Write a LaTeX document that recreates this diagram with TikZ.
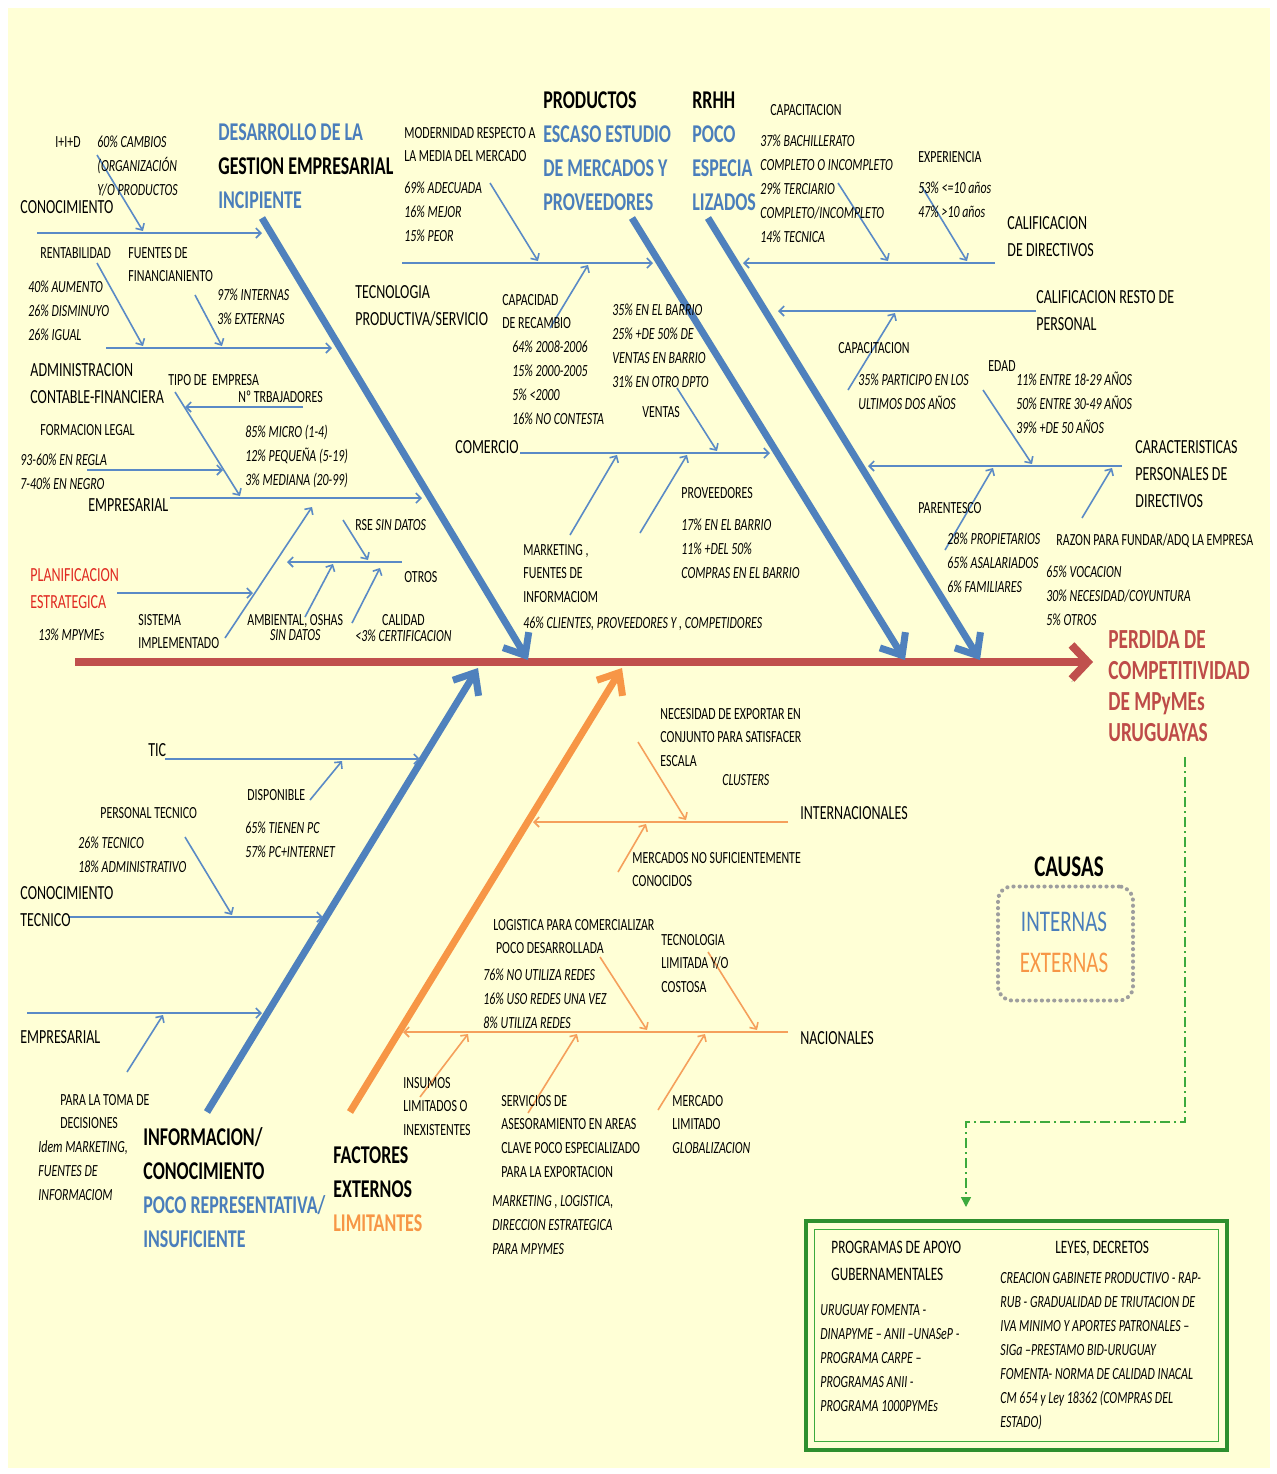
\documentclass[tikz,border=0pt]{standalone}
\usepackage{fontspec}
\setmainfont{Carlito}[FakeStretch=0.7]
\usetikzlibrary{arrows.meta}
\definecolor{bgy}{HTML}{FFFFD6}
\definecolor{bone}{HTML}{4F81BD}
\definecolor{thinb}{HTML}{5A8AC6}
\definecolor{orb}{HTML}{F79646}
\definecolor{thino}{HTML}{F5A05C}
\definecolor{spinec}{HTML}{C0504D}
\definecolor{hblue}{HTML}{4A7EBB}
\definecolor{pred}{HTML}{E02A22}
\definecolor{effred}{HTML}{BE4B48}
\definecolor{grn}{HTML}{2E8F2E}
\definecolor{grnl}{HTML}{3DAA3D}
% stacked lines whose baseline is the first line's baseline
\newcommand\mlines[1]{\begin{tabular}[t]{@{}l@{}}#1\end{tabular}}
\newcommand\mlinesc[1]{\begin{tabular}[t]{@{}c@{}}#1\end{tabular}}
\begin{document}
\begin{tikzpicture}[x=0.5pt,y=-0.5pt,
  txt/.style={inner sep=0pt,anchor=base west},
  tsm/.style={txt,font=\fontsize{8.5}{11.9}\selectfont},
  tit/.style={txt,font=\fontsize{8.5}{12}\selectfont\itshape},
  tlab/.style={txt,font=\fontsize{10}{13.5}\selectfont},
  thd/.style={txt,font=\fontsize{12.8}{17}\selectfont\bfseries},
  teff/.style={txt,font=\fontsize{13.8}{15.5}\selectfont\bfseries,text=effred},
  bonein/.style={line width=3.5pt,draw=bone,-{Straight Barb[length=9pt,width=15pt]}},
  boneor/.style={line width=3.5pt,draw=orb,-{Straight Barb[length=9pt,width=15pt]}},
  twig/.style={line width=0.8pt,draw=thinb,-{Straight Barb[length=2.5pt,width=5pt]}},
  otwig/.style={line width=0.8pt,draw=thino,-{Straight Barb[length=2.5pt,width=5pt]}},
  spine/.style={line width=4pt,draw=spinec,-{Straight Barb[length=8pt,width=17pt]}}
]
% page and background
\useasboundingbox (0,0) rectangle (1277,1474);
\fill[white] (0,0) rectangle (1277,1474);
\fill[bgy] (8,8) rectangle (1270,1468);

% ---------- main spine ----------
\coordinate (sp0) at (75,662);
\coordinate (sp1) at (1093,662);
\draw[spine,preaction={draw=black,opacity=0.18,transform canvas={yshift=-1.5pt}}] (sp0) -- (sp1);

% ---------- main bones ----------
\coordinate (b1s) at (262,218); \coordinate (b1e) at (528,660);
\coordinate (b2s) at (632,218); \coordinate (b2e) at (905,660);
\coordinate (b3s) at (708,218); \coordinate (b3e) at (980,660);
\coordinate (b4s) at (207,1112); \coordinate (b4e) at (478,668);
\coordinate (b5s) at (350,1112); \coordinate (b5e) at (622,668);
\draw[bonein] (b1s) -- (b1e);
\draw[bonein] (b2s) -- (b2e);
\draw[bonein] (b3s) -- (b3e);
\draw[bonein] (b4s) -- (b4e);
\draw[boneor] (b5s) -- (b5e);

% ---------- branch lines ----------
\coordinate (l1a) at (37,233);   \coordinate (l1b) at (262,233);
\coordinate (l2a) at (106,348);  \coordinate (l2b) at (332,348);
\coordinate (l3a) at (170,498);  \coordinate (l3b) at (422,498);
\coordinate (l4a) at (402,263);  \coordinate (l4b) at (653,263);
\coordinate (l5a) at (520,453);  \coordinate (l5b) at (770,453);
\coordinate (l6a) at (995,263);  \coordinate (l6b) at (743,263);
\coordinate (l7a) at (1036,311); \coordinate (l7b) at (778,311);
\coordinate (l8a) at (1122,466); \coordinate (l8b) at (868,466);
\coordinate (l9a) at (165,759);  \coordinate (l9b) at (420,759);
\coordinate (l10a) at (68,917);  \coordinate (l10b) at (323,917);
\coordinate (l11a) at (27,1013); \coordinate (l11b) at (262,1013);
\coordinate (l12a) at (788,822); \coordinate (l12b) at (533,822);
\coordinate (l13a) at (788,1032); \coordinate (l13b) at (403,1032);
\foreach \i in {1,...,11} {\draw[twig] (l\i a) -- (l\i b);}
\draw[otwig] (l12a) -- (l12b);
\draw[otwig] (l13a) -- (l13b);

% ---------- small cause arrows ----------
\foreach \n/\xa/\ya/\xb/\yb in {
  a1/97/155/143/231, a2/97/263/143/346, a3/195/295/222/346,
  a4/175/392/240/496, a5/303/407/185/407, a6/87/470/223/470,
  a7/117/593/253/593, a8/225/638/312/507, a9/402/562/287/562,
  a10/343/520/368/560, a11/305/617/333/564, a12/352/623/380/568,
  a13/490/183/538/261, a14/550/328/588/265, a15/677/388/717/451,
  a16/570/535/617/455, a17/640/533/687/455,
  a18/838/183/888/261, a19/922/187/967/261, a20/848/390/895/313,
  a21/983/390/1032/464, a22/945/550/993/468, a23/1082/518/1112/468,
  a24/310/800/342/761, a25/185/837/232/915, a26/127/1072/163/1015}
  {\coordinate (\n s) at (\xa,\ya); \coordinate (\n e) at (\xb,\yb);
   \draw[twig] (\n s) -- (\n e);}
\foreach \n/\xa/\ya/\xb/\yb in {
  a27/638/742/686/820, a28/618/872/646/824, a29/600/957/647/1030,
  a30/708/952/757/1030, a31/420/1097/468/1034, a32/528/1113/577/1034,
  a33/658/1110/705/1034}
  {\coordinate (\n s) at (\xa,\ya); \coordinate (\n e) at (\xb,\yb);
   \draw[otwig] (\n s) -- (\n e);}

% ---------- headers of the bones ----------
\node[thd] (h1) at (218,140) {\mlines{\textcolor{hblue}{DESARROLLO DE LA}\\GESTION EMPRESARIAL\\\textcolor{hblue}{INCIPIENTE}}};
\node[thd] (h2) at (543,108) {\mlines{PRODUCTOS\\\textcolor{hblue}{ESCASO ESTUDIO}\\\textcolor{hblue}{DE MERCADOS Y}\\\textcolor{hblue}{PROVEEDORES}}};
\node[thd] (h3) at (692,108) {\mlines{RRHH\\\textcolor{hblue}{POCO}\\\textcolor{hblue}{ESPECIA}\\\textcolor{hblue}{LIZADOS}}};
\node[thd] (h4) at (143,1145) {\mlines{INFORMACION/\\CONOCIMIENTO\\\textcolor{hblue}{POCO REPRESENTATIVA/}\\\textcolor{hblue}{INSUFICIENTE}}};
\node[thd] (h5) at (333,1163) {\mlines{FACTORES\\EXTERNOS\\\textcolor{orb}{LIMITANTES}}};
\node[teff] (eff) at (1108,648) {\mlines{PERDIDA DE\\COMPETITIVIDAD\\DE MPyMEs\\URUGUAYAS}};

% ---------- gestion empresarial ----------
\node[tsm] (t1) at (55,147) {I+I+D};
\node[tit] (t2) at (97,147) {\mlines{60\% CAMBIOS\\(ORGANIZACIÓN\\Y/O PRODUCTOS}};
\node[tlab] (t3) at (20,213) {CONOCIMIENTO};
\node[tsm] (t4) at (40,258) {RENTABILIDAD};
\node[tsm] (t5) at (128,258) {\mlines{FUENTES DE\\FINANCIANIENTO}};
\node[tit] (t6) at (28,292) {\mlines{40\% AUMENTO\\26\% DISMINUYO\\26\% IGUAL}};
\node[tit] (t7) at (217,300) {\mlines{97\% INTERNAS\\3\% EXTERNAS}};
\node[tlab] (t8) at (30,376) {\mlines{ADMINISTRACION\\CONTABLE-FINANCIERA}};
\node[tsm] (t9) at (168,385) {TIPO DE\ \ EMPRESA};
\node[tsm] (t10) at (238,402) {Nº TRBAJADORES};
\node[tsm] (t11) at (40,435) {FORMACION LEGAL};
\node[tit] (t12) at (20,465) {\mlines{93-60\% EN REGLA\\7-40\% EN NEGRO}};
\node[tit] (t13) at (245,437) {\mlines{85\% MICRO (1-4)\\12\% PEQUEÑA (5-19)\\3\% MEDIANA (20-99)}};
\node[tlab] (t14) at (88,511) {EMPRESARIAL};
\node[tsm] (t15) at (355,530) {RSE \textit{SIN DATOS}};
\node[tsm] (t16) at (404,582) {OTROS};
\node[tlab,text=pred] (t17) at (30,581) {\mlines{PLANIFICACION\\ESTRATEGICA}};
\node[tsm] (t18) at (138,625) {\mlines{SISTEMA\\IMPLEMENTADO}};
\node[tit] (t19) at (38,640) {13\% MPYMEs};
\node[tsm,font=\fontsize{8.5}{7.5}\selectfont] (t20) at (247,625) {\mlinesc{AMBIENTAL, OSHAS\\\textit{SIN DATOS}}};
\node[tsm,font=\fontsize{8.5}{7.5}\selectfont] (t21) at (355,625) {\mlinesc{CALIDAD\\\textit{<3\% CERTIFICACION}}};

% ---------- productos ----------
\node[tsm] (t22) at (404,138) {\mlines{MODERNIDAD RESPECTO A\\LA MEDIA DEL MERCADO}};
\node[tit] (t23) at (404,193) {\mlines{69\% ADECUADA\\16\% MEJOR\\15\% PEOR}};
\node[tlab] (t24) at (355,298) {\mlines{TECNOLOGIA\\PRODUCTIVA/SERVICIO}};
\node[tsm] (t25) at (502,305) {\mlines{CAPACIDAD\\DE RECAMBIO}};
\node[tit] (t26) at (512,352) {\mlines{64\% 2008-2006\\15\% 2000-2005\\5\% <2000\\16\% NO CONTESTA}};
\node[tit] (t27) at (612,315) {\mlines{35\% EN EL BARRIO\\25\% +DE 50\% DE\\VENTAS EN BARRIO\\31\% EN OTRO DPTO}};
\node[tsm] (t28) at (642,417) {VENTAS};
\node[tlab] (t29) at (455,453) {COMERCIO};
\node[tsm] (t30) at (523,555) {\mlines{MARKETING ,\\FUENTES DE\\INFORMACIOM}};
\node[tit] (t31) at (523,628) {46\% CLIENTES, PROVEEDORES Y , COMPETIDORES};
\node[tsm] (t32) at (681,498) {PROVEEDORES};
\node[tit] (t33) at (681,530) {\mlines{17\% EN EL BARRIO\\11\% +DEL 50\%\\COMPRAS EN EL BARRIO}};

% ---------- rrhh ----------
\node[tsm] (t34) at (770,115) {CAPACITACION};
\node[tit] (t35) at (760,146) {\mlines{37\% BACHILLERATO\\COMPLETO O INCOMPLETO\\29\% TERCIARIO\\COMPLETO/INCOMPLETO\\14\% TECNICA}};
\node[tsm] (t36) at (918,162) {EXPERIENCIA};
\node[tit] (t37) at (918,193) {\mlines{53\% <=10 años\\47\% >10 años}};
\node[tlab] (t38) at (1007,229) {\mlines{CALIFICACION\\DE DIRECTIVOS}};
\node[tlab] (t39) at (1036,303) {\mlines{CALIFICACION RESTO DE\\PERSONAL}};
\node[tsm] (t40) at (838,353) {CAPACITACION};
\node[tit] (t41) at (858,385) {\mlines{35\% PARTICIPO EN LOS\\ULTIMOS DOS AÑOS}};
\node[tsm] (t42) at (988,371) {EDAD};
\node[tit] (t43) at (1016,385) {\mlines{11\% ENTRE 18-29 AÑOS\\50\% ENTRE 30-49 AÑOS\\39\% +DE 50 AÑOS}};
\node[tlab] (t44) at (1135,453) {\mlines{CARACTERISTICAS\\PERSONALES DE\\DIRECTIVOS}};
\node[tsm] (t45) at (918,513) {PARENTESCO};
\node[tit] (t46) at (947,544) {\mlines{28\% PROPIETARIOS\\65\% ASALARIADOS\\6\% FAMILIARES}};
\node[tsm] (t47) at (1056,545) {RAZON PARA FUNDAR/ADQ LA EMPRESA};
\node[tit] (t48) at (1046,577) {\mlines{65\% VOCACION\\30\% NECESIDAD/COYUNTURA\\5\% OTROS}};

% ---------- informacion / conocimiento ----------
\node[tlab] (t49) at (148,756) {TIC};
\node[tsm] (t50) at (247,800) {DISPONIBLE};
\node[tit] (t51) at (245,833) {\mlines{65\% TIENEN PC\\57\% PC+INTERNET}};
\node[tsm] (t52) at (100,818) {PERSONAL TECNICO};
\node[tit] (t53) at (78,848) {\mlines{26\% TECNICO\\18\% ADMINISTRATIVO}};
\node[tlab] (t54) at (20,899) {\mlines{CONOCIMIENTO\\TECNICO}};
\node[tlab] (t55) at (20,1043) {EMPRESARIAL};
\node[tsm] (t56) at (60,1105) {\mlines{PARA LA TOMA DE\\DECISIONES}};
\node[tit] (t57) at (38,1152) {\mlines{Idem MARKETING,\\FUENTES DE\\INFORMACIOM}};

% ---------- factores externos ----------
\node[tsm] (t58) at (660,719) {\mlines{NECESIDAD DE EXPORTAR EN\\CONJUNTO PARA SATISFACER\\ESCALA}};
\node[tit] (t59) at (722,785) {CLUSTERS};
\node[tlab] (t60) at (800,819) {INTERNACIONALES};
\node[tsm] (t61) at (632,863) {\mlines{MERCADOS NO SUFICIENTEMENTE\\CONOCIDOS}};
\node[tsm] (t62) at (493,930) {\mlines{LOGISTICA PARA COMERCIALIZAR\\\ POCO DESARROLLADA}};
\node[tit] (t63) at (483,980) {\mlines{76\% NO UTILIZA REDES\\16\% USO REDES UNA VEZ\\8\% UTILIZA REDES}};
\node[tsm] (t64) at (661,945) {\mlines{TECNOLOGIA\\LIMITADA Y/O\\COSTOSA}};
\node[tlab] (t65) at (800,1044) {NACIONALES};
\node[tsm] (t66) at (403,1088) {\mlines{INSUMOS\\LIMITADOS O\\INEXISTENTES}};
\node[tsm] (t67) at (501,1106) {\mlines{SERVICIOS DE\\ASESORAMIENTO EN AREAS\\CLAVE POCO ESPECIALIZADO\\PARA LA EXPORTACION}};
\node[tit] (t68) at (492,1206) {\mlines{MARKETING , LOGISTICA,\\DIRECCION ESTRATEGICA\\PARA MPYMES}};
\node[tsm] (t69) at (672,1106) {\mlines{MERCADO\\LIMITADO\\\textit{GLOBALIZACION}}};

% ---------- legend ----------
\node[font=\fontsize{15}{15}\selectfont\bfseries,inner sep=0pt] (causas) at (1069,867) {CAUSAS};
\node[draw=black!38,line width=2pt,dash pattern=on 0.1pt off 3pt,line cap=round,rounded corners=7pt,
      minimum width=67.5pt,minimum height=57pt,inner sep=0pt] (leg) at (1065.5,943.5) {};
\node[font=\fontsize{15}{15}\selectfont,text=hblue,inner sep=0pt] (int) at (1064,922) {INTERNAS};
\node[font=\fontsize{15}{15}\selectfont,text=orb,inner sep=0pt] (ext) at (1064,963) {EXTERNAS};

% ---------- support box ----------
\node[draw=grn,line width=2pt,minimum width=210.5pt,minimum height=114.5pt,inner sep=0pt] (gbox) at (1016.5,1335.5) {};
\node[draw=grnl,line width=0.8pt,minimum width=202pt,minimum height=106pt,inner sep=0pt] (gboxin) at (1016.5,1335.5) {};
\coordinate (g0) at (1185,757);
\coordinate (g2) at (966,1122);
\draw[grnl,line width=0.7pt,dash pattern=on 5pt off 2pt on 1pt off 2pt,-{Triangle[length=5pt,width=5pt]},shorten >=6pt]
  (g0) |- (g2) -- (g2 |- gbox.north);
\node[tsm,font=\fontsize{9.5}{13.5}\selectfont] (t70) at (831,1253) {\mlines{PROGRAMAS DE APOYO\\GUBERNAMENTALES}};
\node[tit] (t71) at (820,1315) {\mlines{URUGUAY FOMENTA -\\DINAPYME – ANII –UNASeP -\\PROGRAMA CARPE –\\PROGRAMAS ANII -\\PROGRAMA 1000PYMEs}};
\node[tsm,font=\fontsize{9.5}{13.5}\selectfont] (t72) at (1055,1253) {LEYES, DECRETOS};
\node[tit] (t73) at (1000,1283) {\mlines{CREACION GABINETE PRODUCTIVO - RAP-\\RUB - GRADUALIDAD DE TRIUTACION DE\\IVA MINIMO Y APORTES PATRONALES –\\SIGa –PRESTAMO BID-URUGUAY\\FOMENTA- NORMA DE CALIDAD INACAL\\CM 654 y Ley 18362 (COMPRAS DEL\\ESTADO)}};
\end{tikzpicture}
\end{document}
